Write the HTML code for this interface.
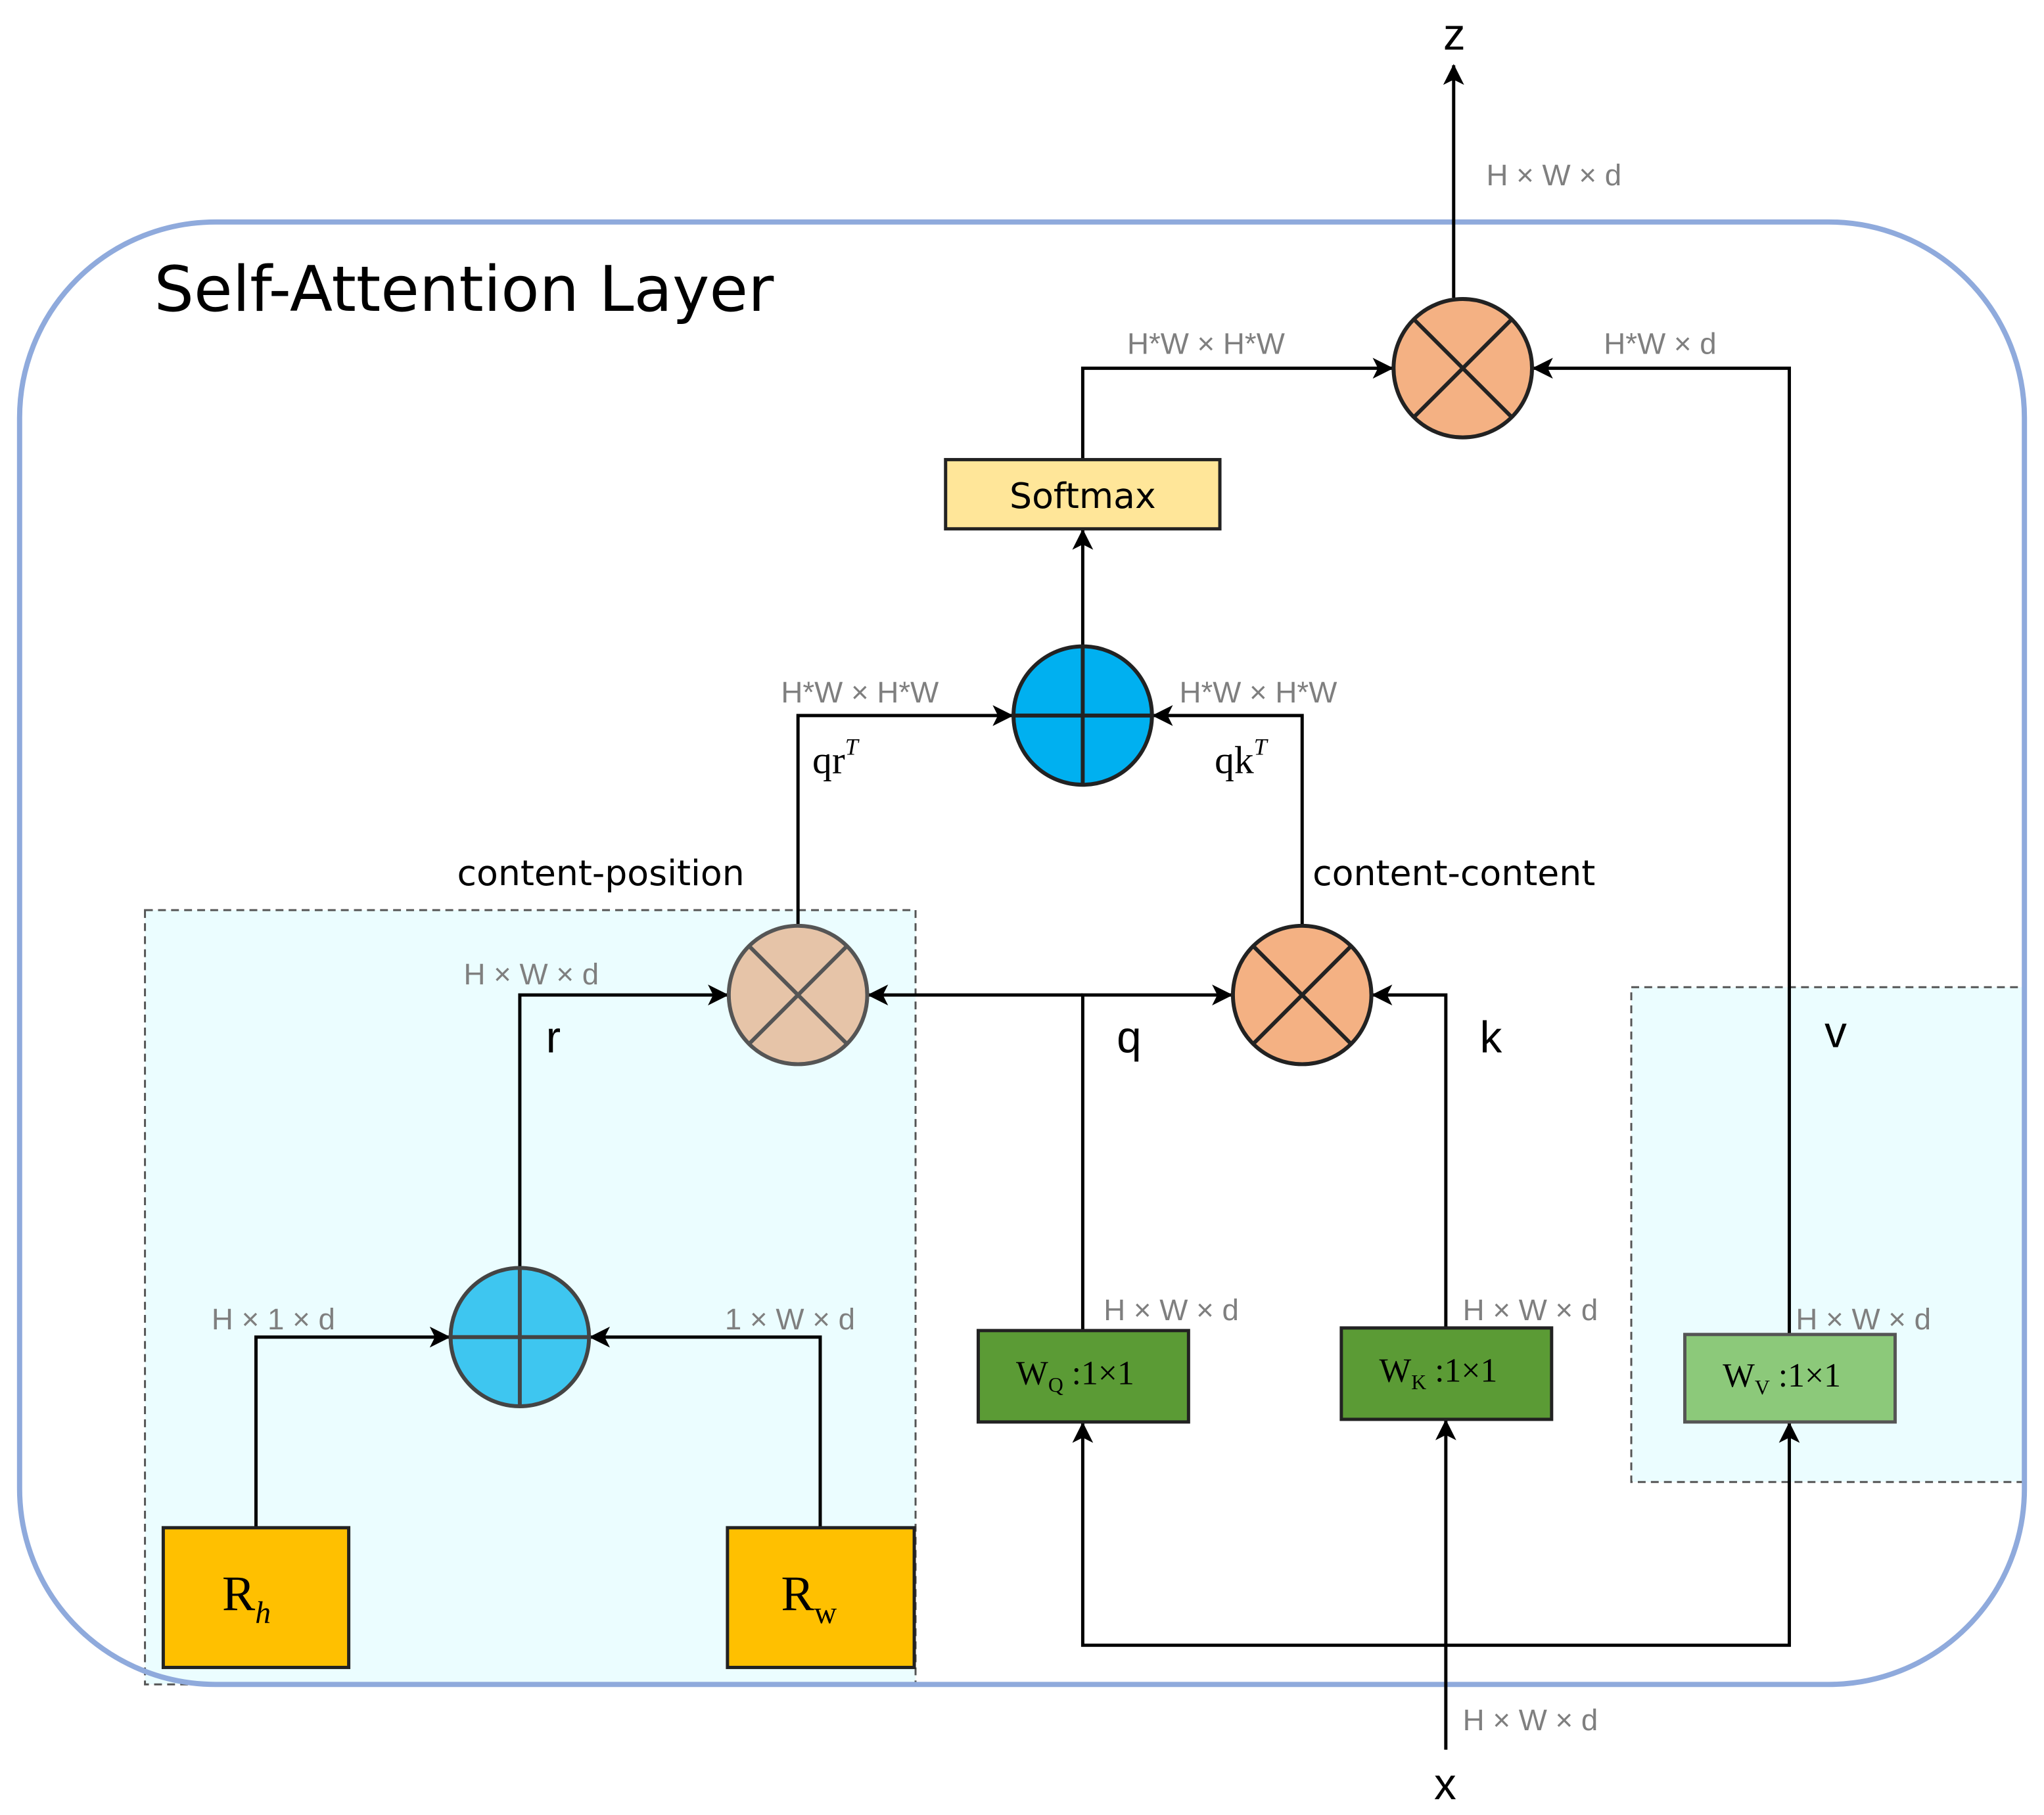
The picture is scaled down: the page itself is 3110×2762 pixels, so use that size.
<!DOCTYPE html>
<html><head><meta charset="utf-8"><style>
html,body{margin:0;padding:0;background:#fff;}
svg{display:block;}
.g{font-family:"Liberation Sans",sans-serif;font-size:23px;fill:#7f7f7f;}
.s{font-family:"Liberation Serif",serif;fill:#000;}
.b{font-family:"Liberation Sans",sans-serif;fill:#000;}
.d{font-family:"DejaVu Sans",sans-serif;fill:#000;}
</style></head><body>
<svg width="3110" height="2762" viewBox="0 0 1565 1390" preserveAspectRatio="none" xmlns="http://www.w3.org/2000/svg">
<defs>
<marker id="a2" markerWidth="16" markerHeight="16" refX="15" refY="8" orient="auto" markerUnits="userSpaceOnUse"><path d="M0,0 L16,8 L0,16 L4,8 z" fill="#000"/></marker>
</defs>
<rect x="111" y="697" width="590" height="593" fill="#ebfdff" stroke="#555" stroke-width="1.5" stroke-dasharray="6,4"/>
<rect x="1249" y="756" width="301" height="379" fill="#ebfdff" stroke="#555" stroke-width="1.5" stroke-dasharray="6,4"/>
<rect x="15" y="170" width="1535" height="1120" rx="150" ry="150" fill="none" stroke="#8faadc" stroke-width="4"/>
<text x="118" y="238" class="d" font-size="48">Self-Attention Layer</text>
<g stroke="#000" stroke-width="2.5" fill="none">
<line x1="1113" y1="228" x2="1113" y2="50" marker-end="url(#a2)"/>
<polyline points="829,352 829,282 1066,282" marker-end="url(#a2)"/>
<polyline points="1370,1022 1370,282 1174,282" marker-end="url(#a2)"/>
<line x1="829" y1="495" x2="829" y2="406" marker-end="url(#a2)"/>
<polyline points="611,708 611,548 775,548" marker-end="url(#a2)"/>
<polyline points="997,708 997,548 883,548" marker-end="url(#a2)"/>
<polyline points="829,1019 829,762 943,762" marker-end="url(#a2)"/>
<line x1="829" y1="762" x2="665" y2="762" marker-end="url(#a2)"/>
<polyline points="1107,1017 1107,762 1051,762" marker-end="url(#a2)"/>
<polyline points="398,971 398,762 557,762" marker-end="url(#a2)"/>
<polyline points="196,1170 196,1024 344,1024" marker-end="url(#a2)"/>
<polyline points="628,1170 628,1024 452,1024" marker-end="url(#a2)"/>
<line x1="1107" y1="1340" x2="1107" y2="1088" marker-end="url(#a2)"/>
<polyline points="1107,1260 829,1260 829,1090" marker-end="url(#a2)"/>
<polyline points="1107,1260 1370,1260 1370,1090" marker-end="url(#a2)"/>
</g>
<g stroke="#222" stroke-width="3">
<circle cx="1120" cy="282" r="53" fill="#f4b183"/>
<line x1="1083" y1="245" x2="1157" y2="319"/><line x1="1157" y1="245" x2="1083" y2="319"/>
<circle cx="829" cy="548" r="53" fill="#00b0f0"/>
<line x1="776" y1="548" x2="882" y2="548"/><line x1="829" y1="495" x2="829" y2="601"/>
<circle cx="611" cy="762" r="53" fill="#e6c4a8" stroke="#555"/>
<line x1="574" y1="725" x2="648" y2="799" stroke="#555"/><line x1="648" y1="725" x2="574" y2="799" stroke="#555"/>
<circle cx="997" cy="762" r="53" fill="#f4b183"/>
<line x1="960" y1="725" x2="1034" y2="799"/><line x1="1034" y1="725" x2="960" y2="799"/>
<circle cx="398" cy="1024" r="53" fill="#3ec6f0" stroke="#444"/>
<line x1="345" y1="1024" x2="451" y2="1024" stroke="#444"/><line x1="398" y1="971" x2="398" y2="1077" stroke="#444"/>
</g>
<rect x="724" y="352" width="210" height="53" fill="#ffe699" stroke="#222" stroke-width="2.5"/>
<text x="829" y="389" class="d" font-size="27" text-anchor="middle">Softmax</text>
<rect x="125" y="1170" width="142" height="107" fill="#ffc000" stroke="#222" stroke-width="2.5"/>
<text x="170" y="1233" class="s" font-size="38">R<tspan font-size="24" font-style="italic" dy="10">h</tspan></text>
<rect x="557" y="1170" width="143" height="107" fill="#ffc000" stroke="#222" stroke-width="2.5"/>
<text x="598" y="1233" class="s" font-size="38">R<tspan font-size="24" dy="10">w</tspan></text>
<rect x="749" y="1019" width="161" height="70" fill="#5b9b35" stroke="#222" stroke-width="2.5"/>
<text x="778" y="1060" class="s" font-size="26">W<tspan font-size="16" dy="6">Q</tspan><tspan dy="-6"> :1×1</tspan></text>
<rect x="1027" y="1017" width="161" height="70" fill="#5b9b35" stroke="#222" stroke-width="2.5"/>
<text x="1056" y="1058" class="s" font-size="26">W<tspan font-size="16" dy="6">K</tspan><tspan dy="-6"> :1×1</tspan></text>
<rect x="1290" y="1022" width="161" height="67" fill="#8cc97a" stroke="#555" stroke-width="2.5"/>
<text x="1319" y="1062" class="s" font-size="26" fill="#333">W<tspan font-size="16" dy="6">V</tspan><tspan dy="-6"> :1×1</tspan></text>
<text x="1105" y="38" class="b" font-size="34">z</text>
<text x="1098" y="1378" class="b" font-size="34">x</text>
<text x="1138" y="142" class="g">H × W × d</text>
<text x="863" y="271" class="g">H*W × H*W</text>
<text x="1228" y="271" class="g">H*W × d</text>
<text x="598" y="538" class="g">H*W × H*W</text>
<text x="903" y="538" class="g">H*W × H*W</text>
<text x="622" y="592" class="s" font-size="30">qr<tspan font-size="18" font-style="italic" dy="-14">T</tspan></text>
<text x="930" y="592" class="s" font-size="30">qk<tspan font-size="18" font-style="italic" dy="-14">T</tspan></text>
<text x="350" y="678" class="d" font-size="27">content-position</text>
<text x="1005" y="678" class="d" font-size="27">content-content</text>
<text x="355" y="754" class="g">H × W × d</text>
<text x="418" y="806" class="b" font-size="34">r</text>
<text x="855" y="806" class="b" font-size="34">q</text>
<text x="1133" y="806" class="b" font-size="34">k</text>
<text x="1397" y="802" class="b" font-size="34">v</text>
<text x="162" y="1018" class="g">H × 1 × d</text>
<text x="555" y="1018" class="g">1 × W × d</text>
<text x="845" y="1011" class="g">H × W × d</text>
<text x="1120" y="1011" class="g">H × W × d</text>
<text x="1375" y="1018" class="g">H × W × d</text>
<text x="1120" y="1325" class="g">H × W × d</text>
</svg>
</body></html>
